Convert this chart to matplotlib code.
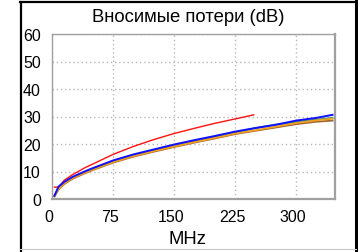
import matplotlib
matplotlib.use("Agg")
import matplotlib.pyplot as plt
from matplotlib.lines import Line2D
import matplotlib.transforms as mtransforms

plt.rcParams['font.family'] = ['Liberation Sans', 'DejaVu Sans']

title = "Вносимые потери (dB)"
xlabel = "MHz"
xticks = [0, 75, 150, 225, 300]
yticks = [0, 10, 20, 30, 40, 50, 60]

red_x = [3, 8, 15, 25, 40, 50, 75, 100, 125, 150, 175, 200, 225, 248]
red_y = [4.3, 4.3, 6.8, 8.8, 11.3, 12.7, 16.2, 19.1, 21.6, 23.8, 25.7, 27.5, 29.1, 30.6]

full_x = [3, 8, 15, 25, 40, 50, 75, 100, 125, 150, 175, 200, 225, 250, 275, 300, 325, 345]
blue_y = [1.2, 4.5, 6.2, 8.0, 10.0, 11.2, 14.0, 16.2, 18.0, 19.8, 21.4, 22.9, 24.5, 25.8, 27.0, 28.5, 29.5, 30.6]
green_y = [1.1, 4.0, 5.8, 7.7, 9.7, 10.9, 13.6, 15.8, 17.6, 19.4, 21.0, 22.6, 24.2, 25.8, 27.0, 28.0, 28.9, 29.5]
brown_y = [0.9, 3.4, 5.4, 7.3, 9.3, 10.5, 13.2, 15.4, 17.2, 18.9, 20.5, 22.0, 23.6, 24.8, 26.0, 27.2, 28.1, 28.5]
orange_y = [1.0, 3.6, 5.6, 7.5, 9.5, 10.7, 13.4, 15.6, 17.4, 19.1, 20.7, 22.2, 23.8, 25.0, 26.3, 27.6, 28.6, 29.2]

W, H = 358, 253
fig = plt.figure(figsize=(W / 100, H / 100), dpi=100)
ax = fig.add_axes([52 / W, (H - 200) / H, 283 / W, 165 / H])

ax.plot(red_x, red_y, color='#ff1010', lw=1.0, zorder=3)
ax.plot(full_x, green_y, color='#3d9a6a', lw=1.3, zorder=3)
ax.plot(full_x, brown_y, color='#a0642c', lw=1.3, zorder=3)
ax.plot(full_x, orange_y, color='#f0a020', lw=1.3, zorder=4)
ax.plot(full_x, blue_y, color='#1010ff', lw=1.4, zorder=5)

ax.set_xlim(0, 348)
ax.set_ylim(0, 60)
ax.set_xticks(xticks)
ax.set_yticks(yticks)
ax.set_xticklabels([str(v) for v in xticks])
ax.set_yticklabels([str(v) for v in yticks])
ax.tick_params(length=0, labelsize=11.5, colors='black')
ax.tick_params(axis='y', pad=8)
ax.tick_params(axis='x', pad=7)
offset = mtransforms.ScaledTranslation(-3 / 100, 0, fig.dpi_scale_trans)
for lbl in ax.get_xticklabels():
    lbl.set_transform(lbl.get_transform() + offset)

ax.grid(True, color='#b8b8b8', linestyle=(0, (1, 2)), linewidth=1.0)
for s in ['left', 'top']:
    ax.spines[s].set_color('#a0a0a0')
    ax.spines[s].set_linewidth(1.0)
for s in ['right', 'bottom']:
    ax.spines[s].set_color('#a0a0a0')
    ax.spines[s].set_linewidth(1.6)

fig.text(188 / W, 1 - 18 / H, title, ha='center', va='center', fontsize=13.3)
fig.text(188 / W, 1 - 240 / H, xlabel, ha='center', va='center', fontsize=13.3)

def fl(x0, y0, x1, y1, color, lw):
    fig.add_artist(Line2D([x0 / W, x1 / W], [1 - y0 / H, 1 - y1 / H],
                          transform=fig.transFigure, color=color, lw=lw))

fl(21, 3, 21, 253, 'black', 1.6)
fl(20, 3, 356, 3, 'black', 1.6)
fl(355.5, 2, 355.5, 253, 'black', 2.2)
fl(20, 250, 356, 250, '#c8c8c8', 0.8)

fig.savefig('out.png', dpi=100)
